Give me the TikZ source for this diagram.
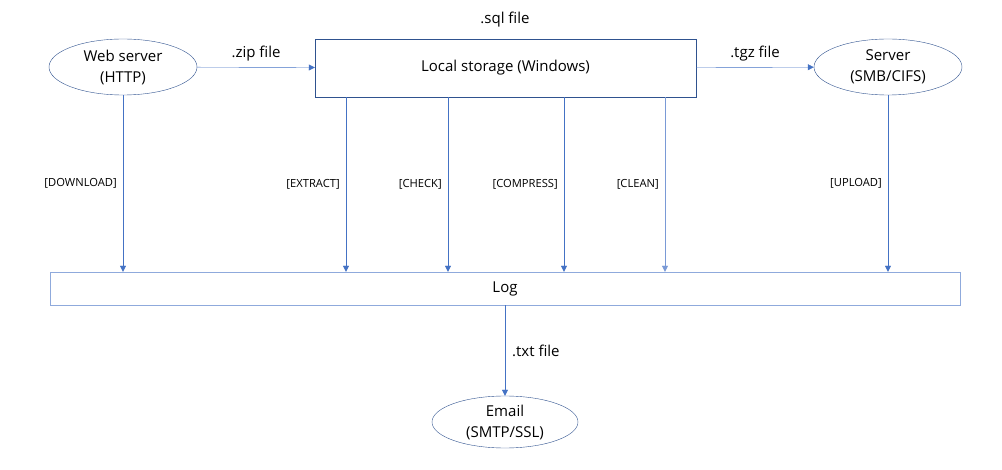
\documentclass[tikz,border=0pt]{standalone}
\usepackage{fontspec}
\setmainfont{Open Sans}
\usetikzlibrary{arrows.meta,positioning,shapes.geometric}
\definecolor{lineblue}{HTML}{4472C4}
\definecolor{darkblue}{HTML}{2F528F}
\definecolor{paleblue}{HTML}{8FAADC}
\definecolor{softblue}{HTML}{7A9AD6}

\begin{document}
\begin{tikzpicture}[
  x=1pt, y=-1pt,
  host/.style={ellipse, draw=darkblue, minimum width=148pt, minimum height=56pt, align=center, inner sep=0pt, font=\fontsize{15}{21}\selectfont},
  store/.style={rectangle, draw=darkblue, minimum width=381pt, minimum height=58pt, font=\fontsize{15}{18}\selectfont},
  logbox/.style={rectangle, draw=paleblue, minimum width=910pt, minimum height=33pt, font=\fontsize{15}{18}\selectfont},
  flow/.style={->, lineblue},
  act/.style={anchor=east, text=black, font=\fontsize{11.2}{13}\selectfont, inner sep=2pt, xshift=-4pt},
  ftype/.style={text=black, font=\fontsize{15}{18}\selectfont, inner sep=1pt},
  >={Triangle[length=6pt, width=6pt]}
]
\useasboundingbox (0,0) rectangle (1002,470);
\node[host] (web) at (123,67) {Web server\\(HTTP)};
\node[store] (local) at (505.5,68) {Local storage (Windows)};
\node[host] (smb) at (888,67) {Server\\(SMB/CIFS)};
\node[logbox] (log) at (505,288.5) {Log};
\node[host, minimum width=146pt, minimum height=52pt] (mail) at (505,422) {Email\\(SMTP/SSL)};
\node[ftype] (sql) at (505,20) {.sql file};
% top row
\draw[flow] (web) -- node[ftype, above=5pt] {.zip file} (local);
\draw[flow] (local) -- node[ftype, above=5pt] {.tgz file} (smb);
% actions into the log
\draw[flow] (web.south) -- node[act, pos=0.5] {[DOWNLOAD]} (web.south |- log.north);
\foreach \px/\txt/\col in {346/EXTRACT/lineblue, 448/CHECK/lineblue, 564/COMPRESS/lineblue, 665/CLEAN/softblue}
  \draw[flow, \col] (\px,0 |- local.south) -- node[act, pos=0.5] {[\txt]} (\px,0 |- log.north);
\draw[flow] (smb.south) -- node[act, pos=0.5] {[UPLOAD]} (smb.south |- log.north);
% mail out
\draw[flow] (log) -- node[ftype, right=6pt] {.txt file} (mail);
\end{tikzpicture}
\end{document}
